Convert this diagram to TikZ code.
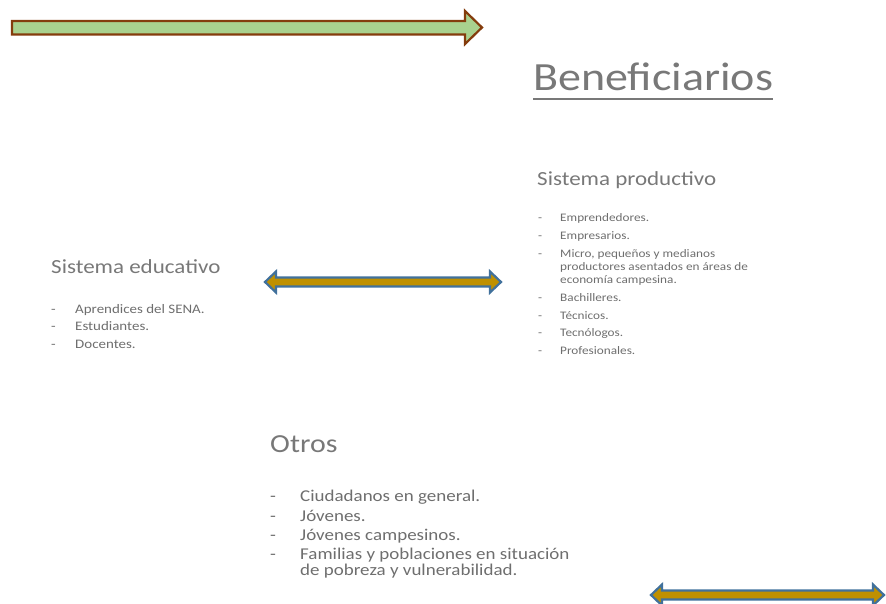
\documentclass[tikz,border=0pt]{standalone}
\usepackage{fontspec}
\setmainfont{Carlito}
\usepackage{xcolor}
\usepackage{tikz}
\usetikzlibrary{positioning}
\definecolor{arrowgreen}{RGB}{169, 209, 142}
\definecolor{arrowbrown}{RGB}{132, 60, 12}
\definecolor{arrowgold}{RGB}{191, 144, 0}
\definecolor{arrowblue}{RGB}{65, 113, 156}
\definecolor{titlegray}{RGB}{120, 120, 120}
\definecolor{listgray}{RGB}{110, 110, 110}

% double block arrow: left tip x, right tip x, centre y
\newcommand{\dblarrow}[3]{%
  \draw[fill=arrowgold, draw=arrowblue, line width=2.2pt]
    (#1,#3) -- (#1+11,#3-10.5) -- (#1+11,#3-4.5) -- (#2-11,#3-4.5) -- (#2-11,#3-10.5)
    -- (#2,#3) -- (#2-11,#3+10.5) -- (#2-11,#3+4.5) -- (#1+11,#3+4.5) -- (#1+11,#3+10.5) -- cycle;}

\begin{document}
\begin{tikzpicture}[x=1pt, y=-1pt,
    headtext/.style={anchor=base west, inner sep=0pt, text=titlegray, xscale=1.15},
    itemtext/.style={anchor=base west, inner sep=0pt, text=listgray, xscale=1.15}]
            \useasboundingbox (0,0) rectangle (886,604);

            % Top arrow
            \draw[fill=arrowgreen, draw=arrowbrown, line width=2.2pt]
              (12,21) -- (465,21) -- (465,11) -- (482,27.5) -- (465,44) -- (465,34.5) -- (12,34.5) -- cycle;

            % Title
            \node[headtext, font=\fontsize{40}{48}\selectfont] (benef) at (533,90.5) {Beneficiarios};
            \draw[titlegray, line width=2.4pt] ([yshift=-8.5pt]benef.base west) -- ([yshift=-8.5pt]benef.base east);

            % Sistema productivo
            \node[headtext, font=\fontsize{20}{24}\selectfont] (prod) at (537,186) {Sistema productivo};
            \node[itemtext, font=\fontsize{11.5}{14}\selectfont] (prodA) at (560,222) {Emprendedores.};
            \node[itemtext, font=\fontsize{11.5}{14}\selectfont] (prodB) at (560,240) {Empresarios.};
            \node[itemtext, font=\fontsize{11.5}{14}\selectfont] (prodC) at (560,257) {Micro, pequeños y medianos};
            \node[itemtext, font=\fontsize{11.5}{14}\selectfont] (prodC2) at (560,270) {productores asentados en áreas de};
            \node[itemtext, font=\fontsize{11.5}{14}\selectfont] (prodC3) at (560,283) {economía campesina.};
            \node[itemtext, font=\fontsize{11.5}{14}\selectfont] (prodD) at (560,301) {Bachilleres.};
            \node[itemtext, font=\fontsize{11.5}{14}\selectfont] (prodE) at (560,319) {Técnicos.};
            \node[itemtext, font=\fontsize{11.5}{14}\selectfont] (prodF) at (560,336) {Tecnólogos.};
            \node[itemtext, font=\fontsize{11.5}{14}\selectfont] (prodG) at (560,354) {Profesionales.};
            \node[itemtext, font=\fontsize{11.5}{14}\selectfont] (dashA) at (538,222) {-};
            \node[itemtext, font=\fontsize{11.5}{14}\selectfont] (dashB) at (538,240) {-};
            \node[itemtext, font=\fontsize{11.5}{14}\selectfont] (dashC) at (538,257) {-};
            \node[itemtext, font=\fontsize{11.5}{14}\selectfont] (dashD) at (538,301) {-};
            \node[itemtext, font=\fontsize{11.5}{14}\selectfont] (dashE) at (538,319) {-};
            \node[itemtext, font=\fontsize{11.5}{14}\selectfont] (dashF) at (538,336) {-};
            \node[itemtext, font=\fontsize{11.5}{14}\selectfont] (dashG) at (538,354) {-};

            % Sistema educativo
            \node[headtext, font=\fontsize{20}{24}\selectfont] (edu) at (51,273) {Sistema educativo};
            \node[itemtext, font=\fontsize{13}{16}\selectfont] (eduA) at (75,313) {Aprendices del SENA.};
            \node[itemtext, font=\fontsize{13}{16}\selectfont] (eduB) at (75,330.5) {Estudiantes.};
            \node[itemtext, font=\fontsize{13}{16}\selectfont] (eduC) at (75,348) {Docentes.};
            \node[itemtext, font=\fontsize{13}{16}\selectfont] (edashA) at (51,313) {-};
            \node[itemtext, font=\fontsize{13}{16}\selectfont] (edashB) at (51,330.5) {-};
            \node[itemtext, font=\fontsize{13}{16}\selectfont] (edashC) at (51,348) {-};

            % Otros
            \node[headtext, font=\fontsize{26}{31}\selectfont] (otros) at (270,452) {Otros};
            \node[itemtext, font=\fontsize{16.5}{20}\selectfont] (otrosA) at (300,501.5) {Ciudadanos en general.};
            \node[itemtext, font=\fontsize{16.5}{20}\selectfont] (otrosB) at (300,521) {Jóvenes.};
            \node[itemtext, font=\fontsize{16.5}{20}\selectfont] (otrosC) at (300,540) {Jóvenes campesinos.};
            \node[itemtext, font=\fontsize{16.5}{20}\selectfont] (otrosD) at (300,559.5) {Familias y poblaciones en situación};
            \node[itemtext, font=\fontsize{16.5}{20}\selectfont] (otrosD2) at (300,575) {de pobreza y vulnerabilidad.};
            \node[itemtext, font=\fontsize{16.5}{20}\selectfont] (odashA) at (270,501.5) {-};
            \node[itemtext, font=\fontsize{16.5}{20}\selectfont] (odashB) at (270,521) {-};
            \node[itemtext, font=\fontsize{16.5}{20}\selectfont] (odashC) at (270,540) {-};
            \node[itemtext, font=\fontsize{16.5}{20}\selectfont] (odashD) at (270,559.5) {-};

            % Double arrows
            \dblarrow{265}{501}{282}
            \dblarrow{651}{884}{595}
        \end{tikzpicture}
\end{document}
